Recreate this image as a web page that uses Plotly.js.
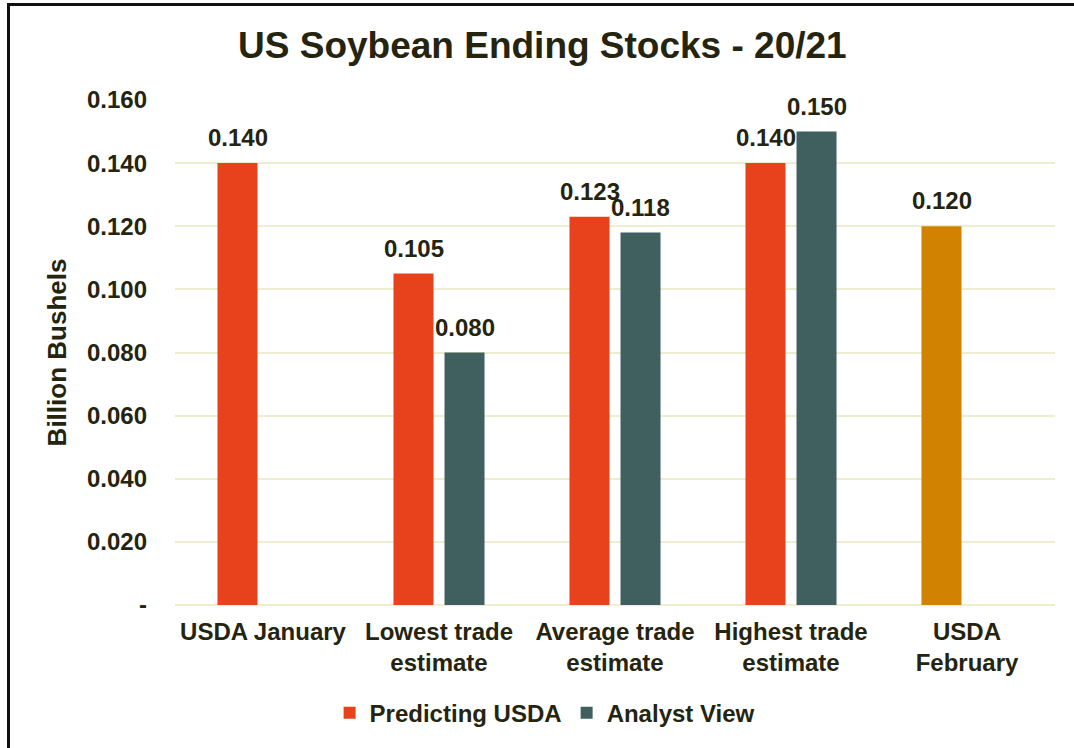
<!DOCTYPE html>
<html>
<head>
<meta charset="utf-8">
<script src="https://cdn.plot.ly/plotly-3.0.1.min.js"></script>
<style>
  html, body { margin: 0; padding: 0; background: #ffffff; overflow: hidden; }
  #frame { position: absolute; left: 7px; top: 3px; width: 1200px; height: 900px;
           border-top: 3px solid #111; border-left: 3px solid #111; pointer-events: none; z-index: 5; }
  #chart { position: absolute; left: 0; top: 0; width: 1074px; height: 748px; }
</style>
</head>
<body>
<div id="chart"></div>
<div id="frame"></div>
<script>
// ---- data ----
const categories = ["USDA January", "Lowest trade<br>estimate", "Average trade<br>estimate", "Highest trade<br>estimate", "USDA<br>February"];
const predictingUSDA = [0.140, 0.105, 0.123, 0.140, 0.120];
const analystView = [null, 0.080, 0.118, 0.150, null];
const seriesNames = ["Predicting USDA", "Analyst View"];
const yTickVals = [0, 0.02, 0.04, 0.06, 0.08, 0.10, 0.12, 0.14, 0.16];
const yTickText = ["-", "0.020", "0.040", "0.060", "0.080", "0.100", "0.120", "0.140", "0.160"];

// ---- style ----
const RED = "#E8421C", TEAL = "#406060", ORANGE = "#D08200";
const TXT = "#24240f";
const FONT = "Liberation Sans, Arial, sans-serif";
const predColors = predictingUSDA.map((v, i) => i === categories.length - 1 ? ORANGE : RED);

const traces = [
  { type: "bar", name: seriesNames[0], x: categories, y: predictingUSDA,
    marker: { color: predColors, line: { width: 0 } }, hoverinfo: "none" },
  { type: "bar", name: seriesNames[1], x: categories, y: analystView,
    marker: { color: TEAL, line: { width: 0 } }, hoverinfo: "none" }
];

// value labels above bars
const annotations = [];
[predictingUSDA, analystView].forEach((arr, s) => {
  arr.forEach((v, i) => {
    if (v === null) return;
    annotations.push({
      x: categories[i], y: v, xref: "x", yref: "y",
      text: v.toFixed(3), showarrow: false,
      yanchor: "bottom", yshift: 10, xshift: s === 0 ? -25.5 : 25.5,
      font: { family: FONT, size: 24, color: TXT, weight: 700 }
    });
  });
});

const layout = {
  width: 1074, height: 748,
  margin: { l: 175, r: 19, t: 100, b: 143, pad: 0 },
  paper_bgcolor: "#ffffff", plot_bgcolor: "#ffffff",
  title: { text: "US Soybean Ending Stocks - 20/21",
           font: { family: FONT, size: 37, color: TXT, weight: 700 },
           x: 0.505, xanchor: "center", xref: "container", y: 0.94, yanchor: "middle", yref: "container" },
  barmode: "group", bargap: 0.42, bargroupgap: 0.216,
  xaxis: { type: "category", showgrid: false, showline: false, zeroline: false, ticks: "",
           ticklabelstandoff: 10,
           tickfont: { family: FONT, size: 24, color: TXT, weight: 700 }, automargin: false },
  yaxis: { range: [0, 0.16], tickvals: yTickVals, ticktext: yTickText,
           showgrid: true, gridcolor: "#EDEDCF", gridwidth: 2, zeroline: true, zerolinecolor: "#EDEDCF", zerolinewidth: 2,
           showline: false, ticks: "", ticklabelstandoff: 27,
           tickfont: { family: FONT, size: 24, color: TXT, weight: 700 },
           title: { text: "Billion Bushels", standoff: 12,
                    font: { family: FONT, size: 26, color: TXT, weight: 700 } },
           automargin: false },
  showlegend: true,
  legend: { orientation: "h", x: 0.42, xanchor: "center", y: -0.214, yanchor: "middle",
            font: { family: FONT, size: 24, color: TXT, weight: 700 }, itemwidth: 30, traceorder: "normal",
            bgcolor: "rgba(0,0,0,0)" },
  annotations: annotations
};

Plotly.newPlot("chart", traces, layout, { displayModeBar: false, staticPlot: true });
</script>
</body>
</html>
